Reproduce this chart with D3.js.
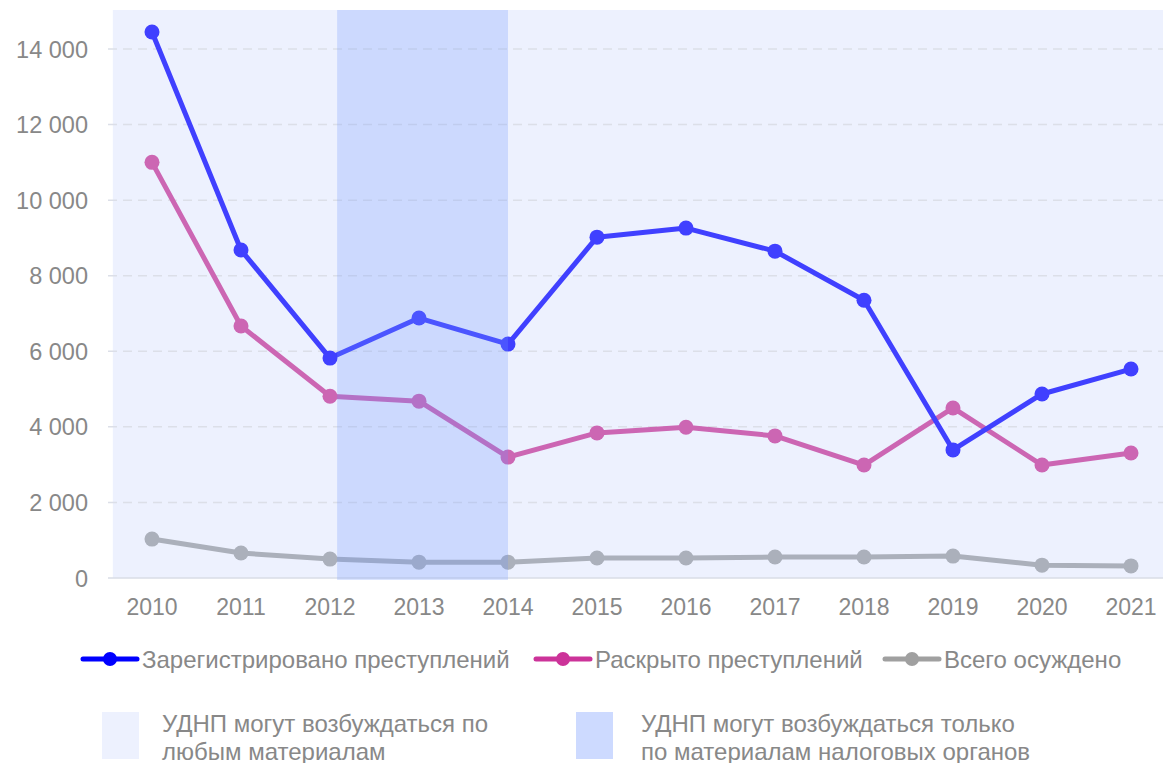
<!DOCTYPE html>
<html>
<head>
<meta charset="utf-8">
<script src="https://cdn.jsdelivr.net/npm/d3@7"></script>
<style>
  body { margin: 0; background: #fff; }
  text { font-family: "Liberation Sans", Arial, sans-serif; fill: #888; }
</style>
</head>
<body>
<script>
// data
var years = [2010, 2011, 2012, 2013, 2014, 2015, 2016, 2017, 2018, 2019, 2020, 2021];
var registered = [14450, 8680, 5820, 6880, 6190, 9020, 9260, 8650, 7350, 3390, 4870, 5530];
var solved = [11000, 6670, 4810, 4680, 3200, 3840, 3990, 3760, 2990, 4500, 2990, 3310];
var convicted = [1030, 660, 500, 420, 420, 530, 530, 555, 555, 580, 340, 320];
var yTicks = [0, 2000, 4000, 6000, 8000, 10000, 12000, 14000];
var seriesNames = ["Зарегистрировано преступлений", "Раскрыто преступлений", "Всего осуждено"];
var periodNames = [["УДНП могут возбуждаться по", "любым материалам"],
                   ["УДНП могут возбуждаться только", "по материалам налоговых органов"]];

var width = 1163, height = 763;

var svg = d3.select("body").append("svg")
    .attr("width", width)
    .attr("height", height);

// scales
var x = d3.scaleLinear().domain([2010, 2021]).range([152, 1131]);
var y = d3.scaleLinear().domain([0, 14000]).range([578, 49]);

// background period
svg.append("rect")
    .attr("x", x(2009.56)).attr("y", 10)
    .attr("width", width - x(2009.56)).attr("height", y(0) - 10)
    .attr("fill", "#edf1fe");

// grid
svg.append("g").selectAll("line")
    .data(yTicks.slice(1))
  .enter().append("line")
    .attr("x1", 108).attr("x2", width)
    .attr("y1", function(d) { return y(d); })
    .attr("y2", function(d) { return y(d); })
    .attr("stroke", "#dcdfe8")
    .attr("stroke-width", 1.5)
    .attr("stroke-dasharray", "9,6");

svg.append("line")
    .attr("x1", 108).attr("x2", width)
    .attr("y1", y(0)).attr("y2", y(0))
    .attr("stroke", "#d8dce6").attr("stroke-width", 1.5);

// y axis labels
svg.append("g").selectAll("text")
    .data(yTicks)
  .enter().append("text")
    .attr("x", 88)
    .attr("y", function(d) { return y(d) + 8.5; })
    .attr("text-anchor", "end")
    .attr("font-size", 23.5)
    .text(function(d) { return d3.format(",")(d).replace(/,/g, " "); });

// x axis labels
svg.append("g").selectAll("text")
    .data(years)
  .enter().append("text")
    .attr("x", function(d) { return x(d); })
    .attr("y", 615)
    .attr("text-anchor", "middle")
    .attr("font-size", 23)
    .text(function(d) { return d; });

// lines
var series = [
  {values: convicted, color: "#abb0bb"},
  {values: solved, color: "#cc66b3"},
  {values: registered, color: "#4040ff"}
];

var line = d3.line()
    .x(function(d, i) { return x(years[i]); })
    .y(function(d) { return y(d); });

series.forEach(function(s) {
  svg.append("path")
      .datum(s.values)
      .attr("fill", "none")
      .attr("stroke", s.color)
      .attr("stroke-width", 5)
      .attr("stroke-linejoin", "round")
      .attr("d", line);
  svg.append("g").selectAll("circle")
      .data(s.values)
    .enter().append("circle")
      .attr("cx", function(d, i) { return x(years[i]); })
      .attr("cy", function(d) { return y(d); })
      .attr("r", 7.5)
      .attr("fill", s.color);
});

// highlighted period overlay (on top of lines)
svg.append("rect")
    .attr("x", x(2012.08)).attr("y", 10)
    .attr("width", x(2014) - x(2012.08)).attr("height", y(0) - 8)
    .attr("fill", "rgba(109,149,255,0.25)");

// legend: series
var legendColors = ["#0000ff", "#cc3399", "#a0a0a0"];
var legendX = [83, 536, 885];
seriesNames.forEach(function(name, i) {
  var g = svg.append("g").attr("transform", "translate(" + legendX[i] + ",659)");
  g.append("line")
      .attr("x1", 0).attr("x2", 54)
      .attr("stroke", legendColors[i])
      .attr("stroke-width", 5)
      .attr("stroke-linecap", "round");
  g.append("circle")
      .attr("cx", 27).attr("r", 7)
      .attr("fill", legendColors[i]);
  g.append("text")
      .attr("x", 59).attr("y", 8.5)
      .attr("font-size", 24)
      .text(name);
});

// legend: periods
var periodColors = ["#edf1fe", "#cddaff"];
var periodX = [102, 576];
periodNames.forEach(function(lines, i) {
  var g = svg.append("g").attr("transform", "translate(" + periodX[i] + ",712)");
  g.append("rect")
      .attr("width", 37).attr("height", 47)
      .attr("fill", periodColors[i]);
  lines.forEach(function(t, j) {
    g.append("text")
        .attr("x", i === 0 ? 60 : 65)
        .attr("y", 20 + j * 28)
        .attr("font-size", 24)
        .text(t);
  });
});
</script>
</body>
</html>
